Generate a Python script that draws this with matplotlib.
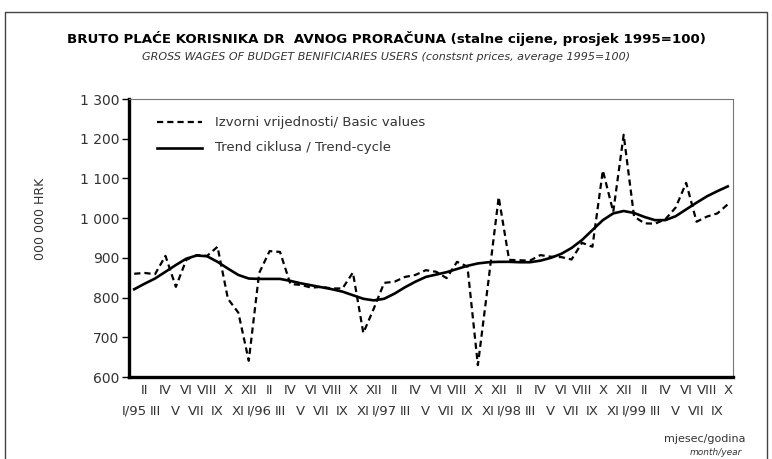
import matplotlib.pyplot as plt
from matplotlib.lines import Line2D

# mjeseci I/95 - X/99
roman = ['I', 'II', 'III', 'IV', 'V', 'VI', 'VII', 'VIII', 'IX', 'X', 'XI', 'XII']
years = ['95', '96', '97', '98', '99']
months = []
for y in years:
    for r in roman:
        months.append(r + '/' + y if r == 'I' else r)
months = months[:58]

basic = [860, 862, 859, 905, 827, 895, 907, 905, 928, 797, 762, 641,
         862, 917, 915, 834, 832, 825, 827, 823, 823, 863, 711, 772,
         837, 840, 852, 857, 869, 865, 849, 890, 878, 630, 839, 1053,
         895, 894, 893, 907, 903, 902, 896, 938, 928, 1120, 1016, 1210,
         1004, 987, 986, 997, 1027, 1089, 991, 1004, 1012, 1035]
trend = [821, 835, 848, 865, 882, 898, 906, 904, 890, 873, 857, 848,
         847, 847, 847, 842, 836, 831, 826, 821, 815, 806, 797, 793,
         797, 810, 826, 840, 852, 858, 864, 872, 880, 886, 889, 890,
         890, 889, 889, 893, 900, 910, 925, 945, 970, 995, 1012, 1018,
         1013, 1003, 995, 995, 1005, 1022, 1039, 1055, 1068, 1080]
yticks = [600, 700, 800, 900, 1000, 1100, 1200, 1300]

x = list(range(len(months)))
txt = '#333333'
dash = (0, (2.8, 1.8))

fig = plt.figure(figsize=(7.72, 4.59), dpi=100)
ax = fig.add_axes([0.1671, 0.1786, 0.7824, 0.6057])

ax.plot(x, basic, color='black', lw=1.6, ls=dash)
ax.plot(x, trend, color='black', lw=1.9)

ax.set_xlim(-0.5, 57.5)
ax.set_ylim(600, 1300)
ax.set_yticks(yticks)
ax.set_yticklabels([f'{v:,}'.replace(',', ' ') for v in yticks], fontsize=10, color=txt)
ax.tick_params(axis='y', length=5, width=1, direction='out', pad=2)

# dva reda oznaka na x osi
ax.set_xticks(x[1::2])
ax.set_xticklabels(months[1::2], fontsize=9.5, color=txt)
ax.set_xticks(x[0::2], minor=True)
ax.set_xticklabels(months[0::2], minor=True, fontsize=9.5, color=txt)
ax.tick_params(axis='x', which='major', length=0, pad=5)
ax.tick_params(axis='x', which='minor', length=0, pad=20)

for s in ['left', 'bottom']:
    ax.spines[s].set_linewidth(2.4)
for s in ['top', 'right']:
    ax.spines[s].set_linewidth(0.8)
    ax.spines[s].set_color('#777777')

# legenda
ax.plot([2.2, 6.5], [1242, 1242], color='black', lw=1.6, ls=dash)
ax.plot([2.2, 6.5], [1177, 1177], color='black', lw=1.9)
ax.text(7.8, 1242, 'Izvorni vrijednosti/ Basic values', fontsize=9.5, color=txt, va='center')
ax.text(7.8, 1177, 'Trend ciklusa / Trend-cycle', fontsize=9.5, color=txt, va='center')

fig.text(0.052, 0.523, '000 000 HRK', rotation=90, fontsize=9, color=txt, ha='center', va='center')

fig.text(0.5, 0.917, 'BRUTO PLAĆE KORISNIKA DR  AVNOG PRORAČUNA (stalne cijene, prosjek 1995=100)',
         fontsize=9.6, fontweight='bold', ha='center', va='center')
fig.text(0.5, 0.875, 'GROSS WAGES OF BUDGET BENIFICIARIES USERS (constsnt prices, average 1995=100)',
         fontsize=8, style='italic', ha='center', va='center', color=txt)

fig.text(0.966, 0.043, 'mjesec/godina', fontsize=8, ha='right', va='center', color=txt)
fig.text(0.961, 0.015, 'month/year', fontsize=6.5, style='italic', ha='right', va='center', color=txt)

# okvir
fig.add_artist(Line2D([0.0065, 0.0065, 0.9935, 0.9935], [0.0, 0.974, 0.974, 0.0],
                      transform=fig.transFigure, color='#444444', lw=1.0))

fig.savefig('out.png', dpi=100)
